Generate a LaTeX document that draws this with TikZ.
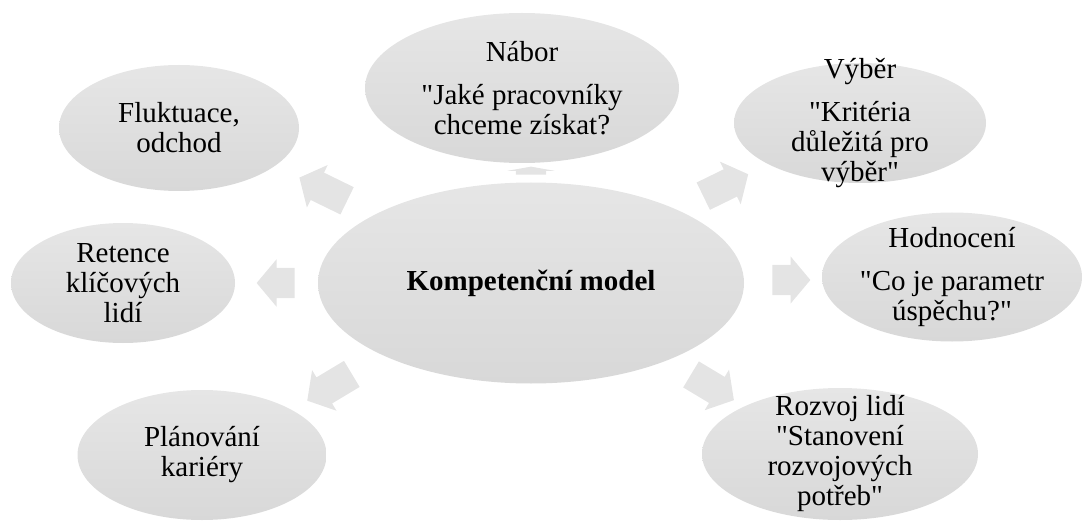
\documentclass[tikz,border=0pt]{standalone}
\usepackage{fontspec}
\setmainfont{Liberation Serif}[Ligatures=TeXOff]
\usepackage{xcolor}
\usetikzlibrary{positioning,calc,shapes.geometric,shapes.arrows}

\definecolor{bubtop}{HTML}{E6E6E6}
\definecolor{bubbot}{HTML}{D8D8D8}
\definecolor{arrfill}{HTML}{E4E4E4}

\tikzset{
  bub/.style={ellipse, inner sep=0pt, outer sep=0pt, top color=bubtop, bottom color=bubbot},
  txt/.style={align=center, inner sep=0pt, font=\fontsize{29}{30}\selectfont},
  blk/.style={single arrow, fill=arrfill, inner xsep=0pt, inner ysep=15pt,
    single arrow head extend=8.5pt, single arrow tip angle=100},
}

\begin{document}
\begin{tikzpicture}[x=1pt, y=-1pt]
  \useasboundingbox (0,0) rectangle (1083,521);

  % bubbles
  \node[bub, minimum width=426, minimum height=201] (km) at (531,283) {};
  \node[bub, minimum width=314, minimum height=150] (na) at (522,88) {};
  \node[bub, minimum width=252, minimum height=120] (vy) at (860,123) {};
  \node[bub, minimum width=260, minimum height=129] (ho) at (952,277) {};
  \node[bub, minimum width=276, minimum height=132] (ro) at (840,454) {};
  \node[bub, minimum width=249, minimum height=130] (pl) at (202,455) {};
  \node[bub, minimum width=224, minimum height=120] (re) at (123,283) {};
  \node[bub, minimum width=240, minimum height=126] (fl) at (179,128) {};

  % texts
  \node[txt] (kmt) at (km) {\bfseries Kompetenční model};
  \node[txt] (nat) at (na) {Nábor\\[13pt]"Jaké pracovníky\\chceme získat?};
  \node[txt] (vyt) at (vy) {Výběr\\[13pt]"Kritéria\\důležitá pro\\výběr"};
  \node[txt] (hot) at (ho) {Hodnocení\\[13pt]"Co je parametr\\úspěchu?"};
  \node[txt] (rot) at (ro) {Rozvoj lidí\\"Stanovení\\rozvojových\\potřeb"};
  \node[txt] (plt) at (pl) {Plánování\\kariéry};
  \node[txt] (ret) at (re) {Retence\\klíčových\\lidí};
  \node[txt] (flt) at (fl) {Fluktuace,\\odchod};

  % block arrows
  \node[blk, minimum height=8, single arrow tip angle=160, rotate=90] (ana) at (531,172) {};
  \node[blk, minimum height=50, rotate=26] (avy) at (720,188) {};
  \node[blk, minimum height=38] (aho) at (785,280) {};
  \node[blk, minimum height=50, rotate=-31] (aro) at (707,384) {};
  \node[blk, minimum height=52, rotate=211] (apl) at (335,384) {};
  \node[blk, minimum height=38, rotate=180] (are) at (282,283) {};
  \node[blk, minimum height=53, rotate=154] (afl) at (329,192) {};
\end{tikzpicture}
\end{document}
